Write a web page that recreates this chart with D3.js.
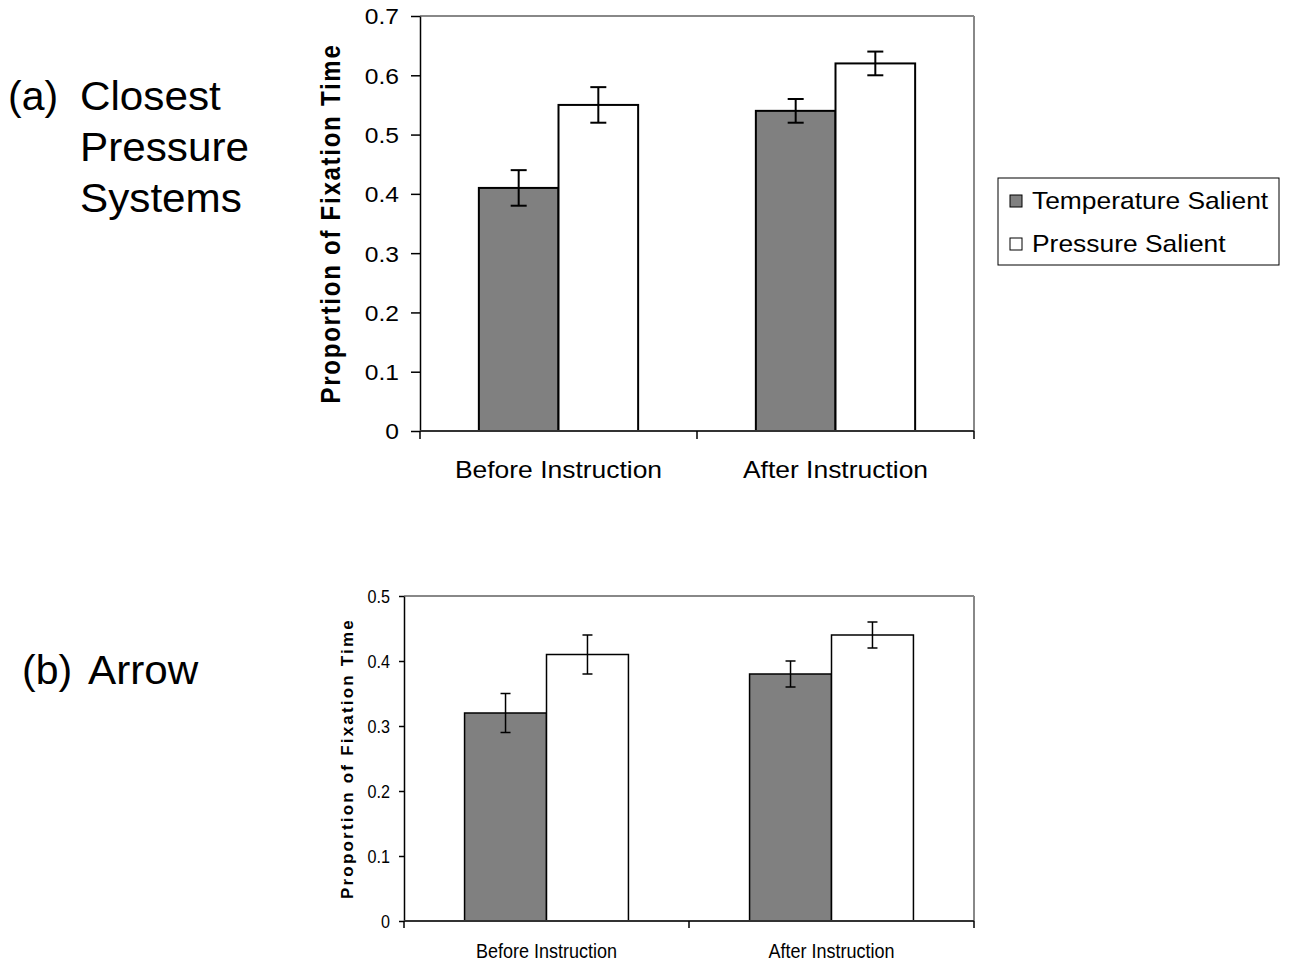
<!DOCTYPE html>
<html><head><meta charset="utf-8">
<script src="https://cdn.jsdelivr.net/npm/d3@7"></script>
<style>body{margin:0;background:#fff}svg{display:block}</style>
</head><body><svg id="c" width="1293" height="966"></svg>
<script>
const categories = ["Before Instruction", "After Instruction"];
const seriesNames = ["Temperature Salient", "Pressure Salient"];
const seriesColors = ["#808080", "#ffffff"];
// Panel (a) Closest Pressure Systems
const aTemp = [0.41, 0.54];
const aTempErr = [0.03, 0.02];
const aPress = [0.55, 0.62];
const aPressErr = [0.03, 0.02];
const aTicks = [0, 0.1, 0.2, 0.3, 0.4, 0.5, 0.6, 0.7];
// Panel (b) Arrow
const bTemp = [0.32, 0.38];
const bTempErr = [0.03, 0.02];
const bPress = [0.41, 0.44];
const bPressErr = [0.03, 0.02];
const bTicks = [0, 0.1, 0.2, 0.3, 0.4, 0.5];
const yLabel = "Proportion of Fixation Time";

const svg = d3.select("#c");
const SANS = "Liberation Sans, Arial, sans-serif";

function stretchedText(parent, x, y, txt, size, sx, anchor) {
  return parent.append("text")
    .attr("transform", `translate(${x},${y}) scale(${sx},1)`)
    .attr("text-anchor", anchor).attr("font-family", SANS).attr("font-size", size)
    .attr("fill", "#000").text(txt);
}

function panel(o) {
  const g = svg.append("g");
  const x0 = d3.scaleBand().domain(categories).range([o.left, o.right]).padding(0);
  const gw = x0.bandwidth() * 0.575;
  const x1 = d3.scaleBand().domain(seriesNames).range([-gw/2, gw/2]).padding(0);
  const y = d3.scaleLinear().domain([0, o.max]).range([o.bottom, o.top]);
  g.append("line").attr("x1", o.left).attr("x2", o.right).attr("y1", o.top).attr("y2", o.top)
    .attr("stroke", "#888").attr("stroke-width", 2);
  g.append("line").attr("x1", o.right).attr("x2", o.right).attr("y1", o.top).attr("y2", o.bottom)
    .attr("stroke", "#888").attr("stroke-width", 2);
  const series = [o.temp, o.press];
  const errs = [o.tempErr, o.pressErr];
  series.forEach((vals, si) => {
    vals.forEach((v, ci) => {
      const xb = x0(categories[ci]) + x0.bandwidth()/2 + x1(seriesNames[si]);
      g.append("rect").attr("x", xb).attr("y", y(v)).attr("width", x1.bandwidth())
        .attr("height", y(0) - y(v)).attr("fill", seriesColors[si])
        .attr("stroke", "#000").attr("stroke-width", o.sw);
      const cx = xb + x1.bandwidth()/2;
      const e = errs[si][ci];
      g.append("line").attr("x1", cx).attr("x2", cx).attr("y1", y(v+e)).attr("y2", y(v-e))
        .attr("stroke", "#000").attr("stroke-width", o.sw);
      [v+e, v-e].forEach(t => g.append("line").attr("x1", cx - o.cap).attr("x2", cx + o.cap)
        .attr("y1", y(t)).attr("y2", y(t)).attr("stroke", "#000").attr("stroke-width", o.sw));
    });
  });
  // y axis
  const ya = g.append("g").attr("transform", `translate(${o.left},0)`)
    .call(d3.axisLeft(y).tickValues(o.ticks).tickSize(o.tick).tickSizeOuter(0)
      .tickFormat(d => d === 0 ? "0" : d3.format(".1f")(d)));
  ya.select(".domain").attr("stroke", "#000").attr("stroke-width", 1.5);
  ya.selectAll(".tick line").attr("stroke", "#000").attr("stroke-width", 1.5);
  ya.selectAll(".tick text").remove();
  ya.selectAll(".tick").each(function(d) {
    stretchedText(d3.select(this), -o.labelGap, o.tickSize * 0.36,
      d === 0 ? "0" : d3.format(".1f")(d), o.tickSize, o.tickSx, "end");
  });
  // x axis
  const xa = g.append("g").attr("transform", `translate(0,${o.bottom})`);
  xa.append("line").attr("x1", o.left).attr("x2", o.right).attr("y1", 0).attr("y2", 0)
    .attr("stroke", "#333").attr("stroke-width", 2);
  const bounds = [o.left, x0(categories[1]), o.right];
  bounds.forEach(b => xa.append("line").attr("x1", b).attr("x2", b).attr("y1", 0).attr("y2", o.xtick)
    .attr("stroke", "#000").attr("stroke-width", 1.5));
  categories.forEach(c => stretchedText(xa, x0(c) + x0.bandwidth()/2, o.catY, c, o.catSize, o.catSx, "middle"));
  // y label
  g.append("text").attr("transform", `translate(${o.ylx},${(o.top+o.bottom)/2}) rotate(-90) scale(1,${o.ylThick})`)
    .attr("text-anchor", "middle").attr("font-family", SANS)
    .attr("font-weight", "bold").attr("font-size", o.ylSize).attr("letter-spacing", o.ylSpacing)
    .attr("fill", "#000").text(yLabel);
}

panel({left: 420, right: 974, top: 16, bottom: 431, max: 0.7, ticks: aTicks,
  temp: aTemp, tempErr: aTempErr, press: aPress, pressErr: aPressErr,
  sw: 2, cap: 8, tick: 9, xtick: 8, labelGap: 21,
  tickSize: 22, tickSx: 1.12,
  catSize: 23, catSx: 1.15, catY: 47,
  ylx: 340, ylSize: 24, ylSpacing: 1.75, ylThick: 1.12});

panel({left: 404, right: 974, top: 596, bottom: 921, max: 0.5, ticks: bTicks,
  temp: bTemp, tempErr: bTempErr, press: bPress, pressErr: bPressErr,
  sw: 1.5, cap: 5, tick: 5, xtick: 7, labelGap: 14,
  tickSize: 19, tickSx: 0.85,
  catSize: 20, catSx: 0.9, catY: 37,
  ylx: 353, ylSize: 17, ylSpacing: 2.2, ylThick: 1});

// legend
const lg = svg.append("g");
lg.append("rect").attr("x", 998).attr("y", 178).attr("width", 281).attr("height", 87)
  .attr("fill", "#fff").attr("stroke", "#000").attr("stroke-width", 1);
seriesNames.forEach((s, i) => {
  const cy = 200 + i * 43;
  lg.append("rect").attr("x", 1010).attr("y", cy - 5).attr("width", 12).attr("height", 12)
    .attr("fill", seriesColors[i]).attr("stroke", "#000").attr("stroke-width", 1);
  stretchedText(lg, 1032, cy + 9, s, 24, 1.1, "start");
});

// panel titles
svg.append("text").attr("x", 8).attr("y", 110).attr("font-family", SANS).attr("font-size", 41).text("(a)");
["Closest", "Pressure", "Systems"].forEach((t, i) =>
  stretchedText(svg, 80, 110 + i * 51, t, 41, 1.03, "start"));
svg.append("text").attr("x", 22).attr("y", 684).attr("font-family", SANS).attr("font-size", 41).text("(b)");
stretchedText(svg, 88, 684, "Arrow", 41, 1.03, "start");
</script></body></html>
